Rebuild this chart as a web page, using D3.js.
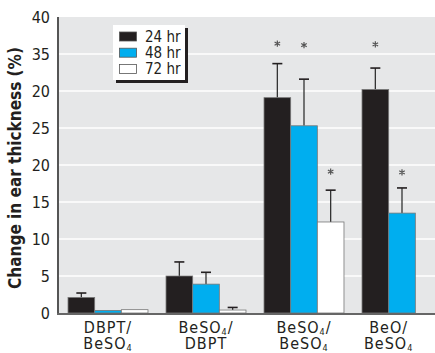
<!DOCTYPE html>
<html>
<head>
<meta charset="utf-8">
<script src="https://cdn.jsdelivr.net/npm/d3@7"></script>
<style>
  body { margin: 0; background: #fff; }
  text { font-family: "DejaVu Sans Condensed", "Liberation Sans Narrow", sans-serif; font-stretch: condensed; fill: #231f20; }
</style>
</head>
<body>
<svg id="chart"></svg>
<script>
// groups along the x axis (two text lines each, "_4" = subscript 4)
const groups = ["g1", "g2", "g3", "g4"];
const groupTop = ["DBPT/", "BeSO_4/", "BeSO_4/", "BeO/"];
const groupBottom = ["BeSO_4", "DBPT", "BeSO_4", "BeSO_4"];

const series = ["24 hr", "48 hr", "72 hr"];
const colors = ["#231f20", "#00aeef", "#ffffff"];

// means (%), null = no bar
const mean24 = [2.1, 5.0, 29.1, 30.2];
const mean48 = [0.35, 3.9, 25.3, 13.5];
const mean72 = [0.45, 0.4, 12.3, null];

// upper error (SD), null = none drawn
const err24 = [0.6, 1.9, 4.6, 2.9];
const err48 = [null, 1.6, 6.3, 3.4];
const err72 = [null, 0.35, 4.3, null];

// asterisk level, null = not significant
const star24 = [null, null, 36.4, 36.3];
const star48 = [null, null, 36.2, 19.0];
const star72 = [null, null, 19.1, null];

// y tick values and their printed labels (as printed in the figure)
const tickValues = [0, 5, 10, 15, 20, 25, 30, 35, 40];
const tickLabels = ["0", "5", "10", "15", "20", "25", "20", "35", "40"];

const canvWidth = 435;
const canvHeight = 353;
const margin = { top: 17, right: 0, bottom: 40, left: 59 };
const width = canvWidth - margin.left - margin.right;
const height = canvHeight - margin.top - margin.bottom;

const svg = d3.select("#chart")
    .attr("width", canvWidth)
    .attr("height", canvHeight)
    .append("g")
    .attr("transform", "translate(" + margin.left + "," + margin.top + ")");

const y = d3.scaleLinear().domain([0, 40]).range([height, 0]);

// last group is cut by the right edge, so the band range runs past it
const x0 = d3.scaleBand()
    .domain(groups)
    .range([0, width + 16])
    .paddingInner(0.184)
    .paddingOuter(0.092);

const x1 = d3.scaleBand()
    .domain(series)
    .range([0, x0.bandwidth()]);

// plot background
svg.append("rect")
    .attr("x", 0).attr("y", 0)
    .attr("width", width).attr("height", height)
    .attr("fill", "#e6e7e8");

// gridlines
svg.append("g")
    .selectAll("line")
    .data(tickValues.filter(d => d > 0 && d < 40))
    .enter().append("line")
    .attr("x1", 0).attr("x2", width)
    .attr("y1", d => y(d)).attr("y2", d => y(d))
    .attr("stroke", "#fff")
    .attr("stroke-width", 1.5);

// build bar data
const means = [mean24, mean48, mean72];
const errs = [err24, err48, err72];
const stars = [star24, star48, star72];
const bars = [];
groups.forEach(function (g, gi) {
    series.forEach(function (s, si) {
        if (means[si][gi] != null) {
            bars.push({ group: g, series: s, si: si, value: means[si][gi], err: errs[si][gi], star: stars[si][gi] });
        }
    });
});

// error bars (drawn under the bars)
const errBars = bars.filter(d => d.err != null);
svg.append("g").selectAll("g")
    .data(errBars)
    .enter().append("g")
    .each(function (d) {
        const cx = x0(d.group) + x1(d.series) + x1.bandwidth() / 2;
        const g = d3.select(this);
        g.append("line")
            .attr("x1", cx).attr("x2", cx)
            .attr("y1", y(d.value)).attr("y2", y(d.value + d.err))
            .attr("stroke", "#333").attr("stroke-width", 1.3);
        g.append("line")
            .attr("x1", cx - 5).attr("x2", cx + 5)
            .attr("y1", y(d.value + d.err)).attr("y2", y(d.value + d.err))
            .attr("stroke", "#231f20").attr("stroke-width", 1.6);
    });

// bars
svg.append("g").selectAll("rect")
    .data(bars)
    .enter().append("rect")
    .attr("x", d => x0(d.group) + x1(d.series))
    .attr("y", d => y(d.value))
    .attr("width", x1.bandwidth())
    .attr("height", d => y(0) - y(d.value))
    .attr("fill", d => colors[d.si])
    .attr("stroke", "#777")
    .attr("stroke-width", 0.8);

// asterisks
svg.append("g").selectAll("path")
    .data(bars.filter(d => d.star != null))
    .enter().append("path")
    .attr("d", d3.symbol(d3.symbolAsterisk).size(28))
    .attr("transform", d => "translate(" + (x0(d.group) + x1(d.series) + x1.bandwidth() / 2) + "," + y(d.star) + ")")
    .attr("fill", "none")
    .attr("stroke", "#555")
    .attr("stroke-width", 1.2);

// axes lines
svg.append("line")
    .attr("x1", -1).attr("x2", -1)
    .attr("y1", 0).attr("y2", height + 1)
    .attr("stroke", "#555").attr("stroke-width", 2);
svg.append("line")
    .attr("x1", -2).attr("x2", width)
    .attr("y1", height + 1).attr("y2", height + 1)
    .attr("stroke", "#666").attr("stroke-width", 2);

// y tick labels
svg.append("g").selectAll("text")
    .data(tickValues)
    .enter().append("text")
    .attr("x", -9)
    .attr("y", d => y(d))
    .attr("dy", "0.35em")
    .attr("text-anchor", "end")
    .style("font-size", "16px")
    .text((d, i) => tickLabels[i]);

// y axis title
svg.append("text")
    .attr("transform", "translate(" + (-38) + "," + (height / 2 + 3) + ") rotate(-90)")
    .attr("text-anchor", "middle")
    .style("font-size", "17px")
    .style("font-weight", "bold")
    .text("Change in ear thickness (%)");

// x group labels with subscripts
function writeLabel(sel, str) {
    const parts = str.split("_4");
    sel.append("tspan").text(parts[0]);
    if (parts.length > 1) {
        sel.append("tspan").attr("dy", 2).style("font-size", "9px").text("4");
        sel.append("tspan").attr("dy", -2).text(parts[1]);
    }
}
groups.forEach(function (g, gi) {
    const n = series.filter((s, si) => means[si][gi] != null).length;
    const cx = x0(g) + n * x1.bandwidth() / 2;
    [groupTop[gi], groupBottom[gi]].forEach(function (line, li) {
        const t = svg.append("text")
            .attr("x", cx)
            .attr("y", height + 20 + li * 15.5)
            .attr("text-anchor", "middle")
            .style("font-size", "16px")
            .style("letter-spacing", "1px");
        writeLabel(t, line);
    });
});

// legend
const legend = svg.append("g").attr("transform", "translate(54,8)");
legend.append("rect")
    .attr("x", 3).attr("y", 3).attr("width", 72).attr("height", 55)
    .attr("fill", "#231f20");
legend.append("rect")
    .attr("x", 0).attr("y", 0).attr("width", 72).attr("height", 55)
    .attr("fill", "#fff");
series.forEach(function (s, i) {
    legend.append("rect")
        .attr("x", 6.5).attr("y", 7 + i * 16.2)
        .attr("width", 17).attr("height", 9)
        .attr("fill", colors[i])
        .attr("stroke", "#555").attr("stroke-width", 0.8);
    legend.append("text")
        .attr("x", 32).attr("y", 11.5 + i * 16.2)
        .attr("dy", "0.35em")
        .style("font-size", "15px")
        .text(s);
});
</script>
</body>
</html>
